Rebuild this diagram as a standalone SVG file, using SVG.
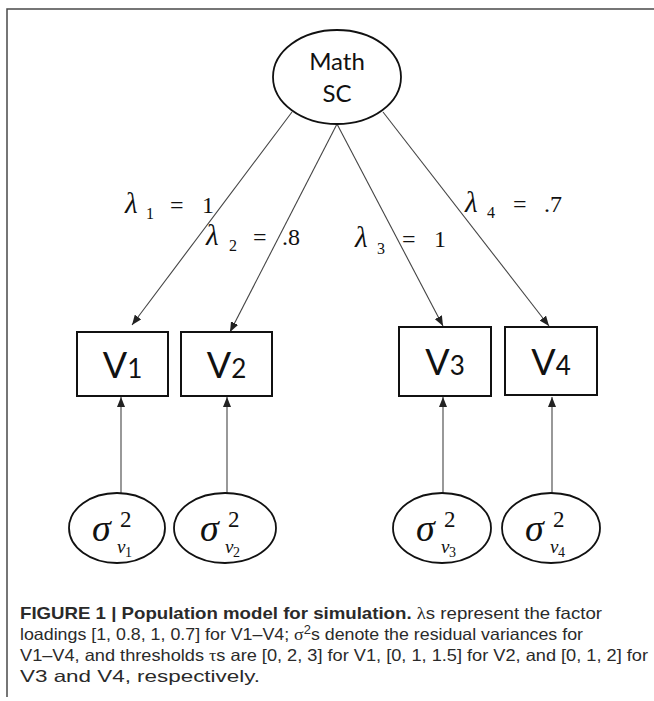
<svg xmlns="http://www.w3.org/2000/svg" width="654" height="701" viewBox="0 0 654 701">
<style>
.frame{stroke:#4a4a4a;stroke-width:1.5;fill:none}
.node{fill:#fff;stroke:#111;stroke-width:1.8}
.box{fill:#fff;stroke:#111;stroke-width:2}
.conn{stroke:#444;stroke-width:1.1;fill:none}
.lbl{font-family:"Lato","Open Sans",sans-serif;fill:#111}
.ser{font-family:"Liberation Serif","Times New Roman",serif;fill:#111}
.it{font-style:italic}
.cap{font-family:"Liberation Sans",Arial,sans-serif;font-size:16.5px;fill:#2a2a2a}
.gr{font-family:"Liberation Serif",serif}
</style>
<defs>
<marker id="ah" markerUnits="userSpaceOnUse" markerWidth="10" markerHeight="8" refX="10" refY="4" orient="auto">
<path d="M0,0 L10,4 L0,8 z" fill="#222"/>
</marker>
</defs>
<path class="frame" d="M654,9 H7 V697"/>
<g id="connectors">
<line class="conn" x1="292" y1="112" x2="132" y2="325" marker-end="url(#ah)"/>
<line class="conn" x1="337" y1="124" x2="230" y2="332" marker-end="url(#ah)"/>
<line class="conn" x1="337" y1="124" x2="443" y2="326" marker-end="url(#ah)"/>
<line class="conn" x1="383" y1="112" x2="549" y2="326" marker-end="url(#ah)"/>
<line class="conn" x1="121" y1="493" x2="121" y2="397" marker-end="url(#ah)"/>
<line class="conn" x1="227" y1="493" x2="227" y2="397" marker-end="url(#ah)"/>
<line class="conn" x1="443" y1="493" x2="443" y2="397" marker-end="url(#ah)"/>
<line class="conn" x1="552" y1="493" x2="552" y2="397" marker-end="url(#ah)"/>
</g>
<g id="mathsc">
<ellipse class="node" cx="337" cy="77" rx="64" ry="47"/>
<text class="lbl" x="337" y="70" font-size="24" text-anchor="middle">Math</text>
<text class="lbl" x="337" y="102" font-size="24" text-anchor="middle">SC</text>
</g>
<g id="loadings" class="ser">
<text y="213" font-size="24"><tspan x="125" class="it" font-size="29">λ</tspan><tspan x="146" y="219" font-size="16">1</tspan><tspan x="170" y="213">=</tspan><tspan x="202">1</tspan></text>
<text y="245" font-size="24"><tspan x="206" class="it" font-size="29">λ</tspan><tspan x="229" y="251" font-size="16">2</tspan><tspan x="253" y="245">=</tspan><tspan x="282">.8</tspan></text>
<text y="247" font-size="24"><tspan x="355" class="it" font-size="29">λ</tspan><tspan x="377" y="254" font-size="16">3</tspan><tspan x="402" y="247">=</tspan><tspan x="434">1</tspan></text>
<text y="212" font-size="24"><tspan x="465" class="it" font-size="29">λ</tspan><tspan x="487" y="218" font-size="16">4</tspan><tspan x="513" y="212">=</tspan><tspan x="544">.7</tspan></text>
</g>
<g id="v1">
<rect class="box" x="77" y="332" width="91" height="64"/>
<text class="lbl" x="122.5" y="378" font-size="36" text-anchor="middle">V<tspan font-size="26">1</tspan></text>
</g>
<g id="v2">
<rect class="box" x="181" y="332" width="91" height="64"/>
<text class="lbl" x="226.5" y="378" font-size="36" text-anchor="middle">V<tspan font-size="26">2</tspan></text>
</g>
<g id="v3">
<rect class="box" x="399" y="327" width="92" height="69"/>
<text class="lbl" x="445" y="375" font-size="36" text-anchor="middle">V<tspan font-size="26">3</tspan></text>
</g>
<g id="v4">
<rect class="box" x="505" y="327" width="92" height="68"/>
<text class="lbl" x="551" y="375" font-size="36" text-anchor="middle">V<tspan font-size="26">4</tspan></text>
</g>
<g id="e1">
<ellipse class="node" cx="117" cy="528" rx="48" ry="35"/>
<text class="ser it" x="92" y="541" font-size="38">σ</text>
<text class="ser" x="120" y="527" font-size="23">2</text>
<text class="ser it" x="117" y="553" font-size="19">v</text>
<text class="ser" x="125" y="557" font-size="14">1</text>
</g>
<g id="e2">
<ellipse class="node" cx="225" cy="528" rx="51" ry="35"/>
<text class="ser it" x="200" y="541" font-size="38">σ</text>
<text class="ser" x="228" y="527" font-size="23">2</text>
<text class="ser it" x="225" y="553" font-size="19">v</text>
<text class="ser" x="233" y="557" font-size="14">2</text>
</g>
<g id="e3">
<ellipse class="node" cx="442" cy="528" rx="49" ry="35"/>
<text class="ser it" x="416" y="541" font-size="38">σ</text>
<text class="ser" x="444" y="527" font-size="23">2</text>
<text class="ser it" x="441" y="553" font-size="19">v</text>
<text class="ser" x="449" y="557" font-size="14">3</text>
</g>
<g id="e4">
<ellipse class="node" cx="551" cy="528" rx="49" ry="35"/>
<text class="ser it" x="525" y="541" font-size="38">σ</text>
<text class="ser" x="553" y="527" font-size="23">2</text>
<text class="ser it" x="550" y="553" font-size="19">v</text>
<text class="ser" x="558" y="557" font-size="14">4</text>
</g>
<g id="caption">
<text class="cap" x="20" y="619" textLength="582" lengthAdjust="spacingAndGlyphs"><tspan font-weight="bold">FIGURE 1 | Population model for simulation.</tspan> <tspan class="gr">λ</tspan>s represent the factor</text>
<text class="cap" x="20" y="640" textLength="563" lengthAdjust="spacingAndGlyphs">loadings [1, 0.8, 1, 0.7] for V1–V4; <tspan class="gr">σ</tspan><tspan dy="-6" font-size="12">2</tspan><tspan dy="6">s denote the residual variances for</tspan></text>
<text class="cap" x="20" y="661" textLength="628" lengthAdjust="spacingAndGlyphs">V1–V4, and thresholds <tspan class="gr">τ</tspan>s are [0, 2, 3] for V1, [0, 1, 1.5] for V2, and [0, 1, 2] for</text>
<text class="cap" x="20" y="682" textLength="240" lengthAdjust="spacingAndGlyphs">V3 and V4, respectively.</text>
</g>
</svg>
